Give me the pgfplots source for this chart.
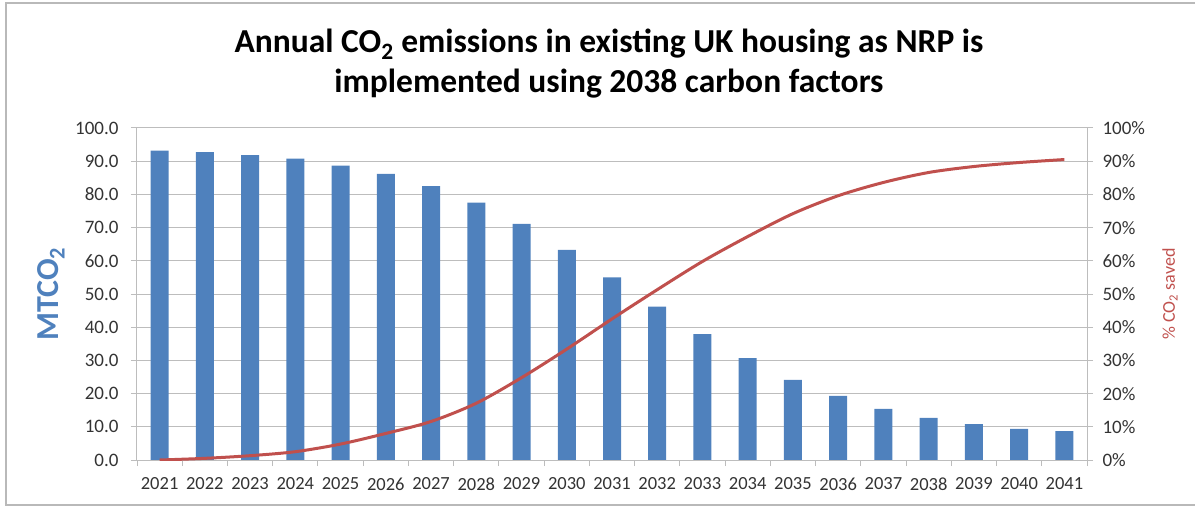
\documentclass[border=0pt]{standalone}
\usepackage{fontspec}
\setmainfont{Carlito}
\usepackage{pgfplots}
\pgfplotsset{compat=1.18}
\definecolor{barblue}{HTML}{4F81BD}
\definecolor{linered}{HTML}{C0504D}
\definecolor{gridgray}{HTML}{BDBDBD}
\definecolor{txtgray}{HTML}{333333}
\begin{document}
\begin{tikzpicture}[x=1pt,y=1pt]
\useasboundingbox (0,0) rectangle (1195,507);
\draw[gray!55, line width=1.2pt] (1195,504) -- (6,504) -- (6,2) -- (1195,2);
\node[anchor=center, align=center, inner sep=0pt, font=\fontsize{33.5}{40}\selectfont\bfseries] at (609,443) {Annual CO\textsubscript{2} emissions in existing UK housing as NRP is\\implemented using 2038 carbon factors};
\begin{axis}[
  at={(137pt,47pt)}, anchor=south west,
  scale only axis, width=950pt, height=332pt,
  xmin=-0.5, xmax=20.5, ymin=0, ymax=100,
  axis x line*=bottom, axis y line*=left,
  axis line style={gridgray, line width=1pt},
  xtick={0,...,20},
  xticklabels={2021,2022,2023,2024,2025,2026,2027,2028,2029,2030,2031,2032,2033,2034,2035,2036,2037,2038,2039,2040,2041},
  xtick style={draw=none},
  ytick={0,10,...,100},
  yticklabel={\pgfmathprintnumber[fixed,fixed zerofill,precision=1]{\tick}},
  ytick style={gridgray, line width=1pt},
  tick align=outside, major tick length=6pt,
  ymajorgrids, grid style={gridgray, line width=1pt},
  ticklabel style={font=\fontsize{19}{21}\selectfont, text=txtgray},
  xticklabel style={font=\fontsize{18.5}{21}\selectfont, yshift=-8pt},
  yticklabel style={xshift=-9pt},
  /pgf/number format/assume math mode=true,
  every axis y label/.style={at={(axis description cs:-0.0905,0.5)}, rotate=90, anchor=center},
  ylabel={MTCO\textsubscript{2}},
  ylabel style={font=\fontsize{32}{34}\selectfont\bfseries, text=barblue},
  ybar, bar width=18pt,
]
\addplot[draw=none, fill=barblue] coordinates {
(0,93.2) (1,92.7) (2,91.8) (3,90.8) (4,88.7) (5,86.2) (6,82.5) (7,77.5) (8,71.1) (9,63.3) (10,55.0)
(11,46.2) (12,37.9) (13,30.7) (14,24.1) (15,19.3) (16,15.4) (17,12.7) (18,10.8) (19,9.4) (20,8.7)
};
\end{axis}
\begin{axis}[
  at={(137pt,47pt)}, anchor=south west,
  scale only axis, width=950pt, height=332pt,
  xmin=-0.5, xmax=20.5, ymin=0, ymax=100,
  axis x line*=bottom, axis y line*=right,
  axis line style={gridgray, line width=1pt},
  xtick={-0.5,0.5,...,20.5}, xticklabels={},
  ytick={0,10,...,100},
  yticklabel={\pgfmathprintnumber{\tick}\%},
  tick style={gridgray, line width=1pt},
  tick align=outside, major tick length=6pt,
  ticklabel style={font=\fontsize{19}{21}\selectfont, text=txtgray},
  yticklabel style={xshift=6pt},
  /pgf/number format/assume math mode=true,
  every axis y label/.style={at={(axis description cs:1.0874,0.5)}, rotate=90, anchor=center},
  ylabel={\% CO\textsubscript{2} saved},
  ylabel style={font=\fontsize{18}{20}\selectfont, text=linered},
]
\addplot[linered, line width=3pt, smooth, mark=none] coordinates {
(0,0.0) (1,0.5) (2,1.3) (3,2.5) (4,4.8) (5,8.0) (6,11.6) (7,17.1) (8,24.8) (9,33.4) (10,42.5)
(11,51.3) (12,59.8) (13,67.3) (14,74.2) (15,79.6) (16,83.6) (17,86.6) (18,88.4) (19,89.6) (20,90.5)
};
\end{axis}
\end{tikzpicture}
\end{document}
